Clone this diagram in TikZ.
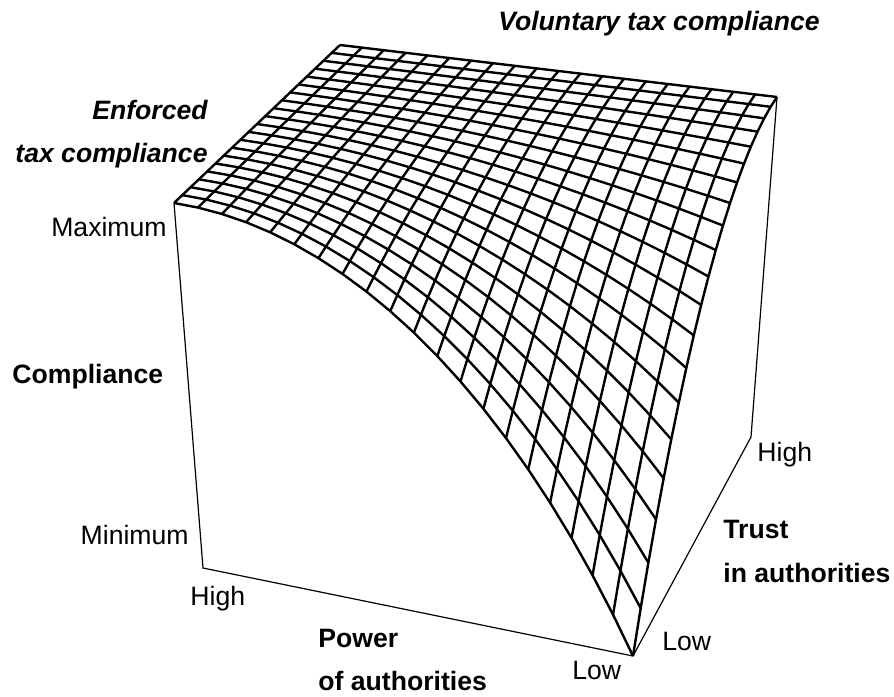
\documentclass[tikz,border=0pt]{standalone}
\usepackage{fontspec}
\setmainfont{Liberation Sans}
\begin{document}
\begin{tikzpicture}[x=0.5pt,y=-0.5pt,
    declare function={
      blend(\pw,\tr,\pa,\pb,\pc,\pd)=(1-\pw)*(1-\tr)*\pa+\pw*(1-\tr)*\pb+\pw*\tr*\pc+(1-\pw)*\tr*\pd;
      comp(\pw,\tr)=1-\pw*\pw*(1-\tr)*(1-\tr);
      sx(\pw,\tr)=(1-comp(\pw,\tr))*blend(\pw,\tr,203,633,751,351)+comp(\pw,\tr)*blend(\pw,\tr,174,651,777,340);
      sy(\pw,\tr)=(1-comp(\pw,\tr))*blend(\pw,\tr,568,656,437,375)+comp(\pw,\tr)*blend(\pw,\tr,203,276,97,45);
    },
    meshline/.style={line width=1.2pt,line join=round},
    boxline/.style={line width=0.6pt},
    lbl/.style={inner sep=0pt,font=\fontsize{13.3}{21}\selectfont},
    boldlbl/.style={lbl,font=\fontsize{13.3}{21}\selectfont\bfseries},
    slantlbl/.style={lbl,font=\fontsize{13.3}{21}\selectfont\bfseries\itshape}]

  \useasboundingbox (0,0) rectangle (894,696);

  % box corners
  \coordinate (lowfront) at (633,656);
  \coordinate (powerhigh) at (203,568);
  \coordinate (trusthigh) at (751,437);
  \coordinate (enforced) at (174,203);
  \coordinate (voluntary) at (777,97);

  \draw[boxline] (enforced) -- (powerhigh) -- (lowfront) -- (trusthigh) -- (voluntary);

  \foreach \k in {0,...,20}{%
    \draw[meshline] plot[variable=\s,samples=21,domain=0:1] ({sx(\k/20,\s)},{sy(\k/20,\s)});
    \draw[meshline] plot[variable=\s,samples=21,domain=0:1] ({sx(\s,\k/20)},{sy(\s,\k/20)});
  }

  \node[slantlbl,anchor=base east] (voltitle) at (820,31) {Voluntary tax compliance};
  \node[slantlbl,anchor=base east] (enftitle) at (208,119) {Enforced};
  \node[slantlbl,anchor=base east] (enftitle2) at (208,162) {tax compliance};
  \node[lbl,anchor=base east] (maxlbl) at (167,236) {Maximum};
  \node[boldlbl,anchor=base west] (complbl) at (12,383) {Compliance};
  \node[lbl,anchor=base east] (minlbl) at (189,544) {Minimum};
  \node[lbl,anchor=base west] (powhigh) at (190,605) {High};
  \node[boldlbl,anchor=base west] (powlbl) at (318,647) {Power};
  \node[boldlbl,anchor=base west] (powlbl2) at (318,690) {of authorities};
  \node[lbl,anchor=base west] (powlow) at (572,679) {Low};
  \node[lbl,anchor=base west] (trlow) at (662,650) {Low};
  \node[lbl,anchor=base west] (trhigh) at (757,461) {High};
  \node[boldlbl,anchor=base west] (trlbl) at (723,538) {Trust};
  \node[boldlbl,anchor=base west] (trlbl2) at (723,582) {in authorities};
\end{tikzpicture}
\end{document}
